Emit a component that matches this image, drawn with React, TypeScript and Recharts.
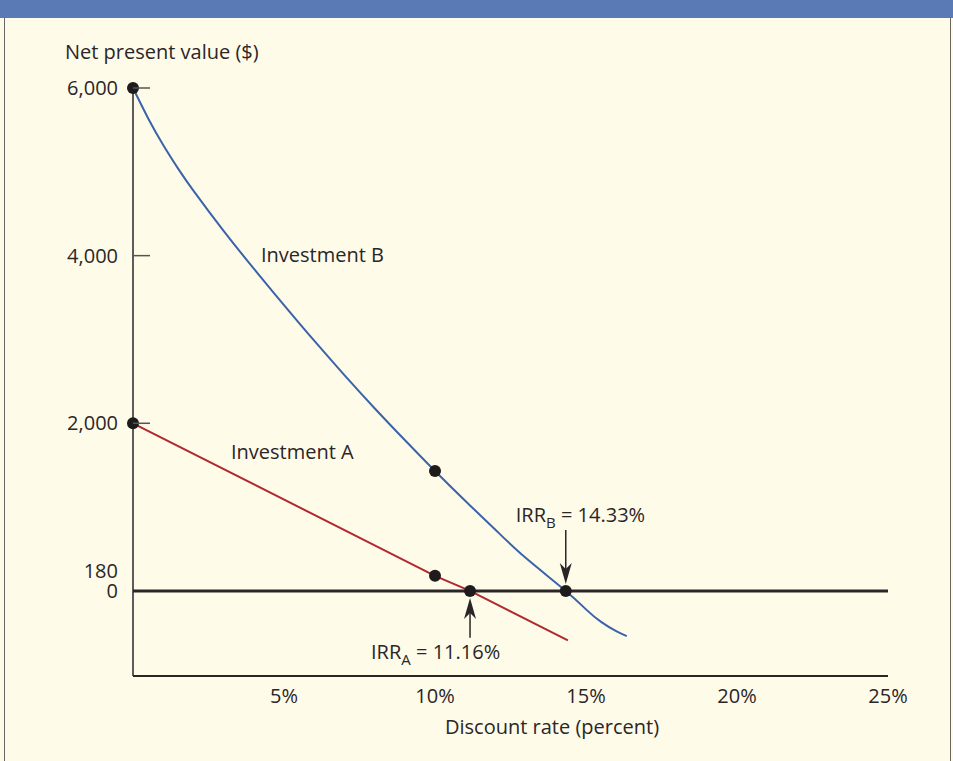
import React from 'react';
import { LineChart, Line, XAxis, YAxis, ReferenceLine, ReferenceDot } from 'recharts';

// discount rate (%) vs NPV ($)
const investmentA = [
  { rate: 0, npv: 2000 },
  { rate: 10, npv: 180 },
  { rate: 11.16, npv: 0 },
  { rate: 14.4, npv: -590 },
];

const investmentB = [
  { rate: 0, npv: 6000 },
  { rate: 0.5, npv: 5640 },
  { rate: 1, npv: 5320 },
  { rate: 1.5, npv: 5035 },
  { rate: 2, npv: 4775 },
  { rate: 3, npv: 4295 },
  { rate: 4, npv: 3845 },
  { rate: 5, npv: 3410 },
  { rate: 6, npv: 2985 },
  { rate: 7, npv: 2575 },
  { rate: 8, npv: 2180 },
  { rate: 9, npv: 1800 },
  { rate: 10, npv: 1430 },
  { rate: 11, npv: 1075 },
  { rate: 12, npv: 730 },
  { rate: 13, npv: 395 },
  { rate: 14.33, npv: 0 },
  { rate: 15, npv: -220 },
  { rate: 15.5, npv: -370 },
  { rate: 16, npv: -480 },
  { rate: 16.35, npv: -540 },
];

const markedPoints = [
  { rate: 0, npv: 6000 },
  { rate: 0, npv: 2000 },
  { rate: 10, npv: 1430 },
  { rate: 10, npv: 180 },
  { rate: 11.16, npv: 0 },
  { rate: 14.33, npv: 0 },
];

const yTicks = [0, 180, 2000, 4000, 6000];
const xTicks = [5, 10, 15, 20, 25];

const irrA = { rate: 11.16, label: 'A', value: '11.16%' };
const irrB = { rate: 14.33, label: 'B', value: '14.33%' };

const INK = '#2a2627';
const FONT = '"Open Sans", sans-serif';
const FS = 20;

const YTick = (props: any) => {
  const { x, y, payload } = props;
  // 180 sits just above 0 in the original, nudged up so the two labels don't collide
  const nudge = payload.value === 180 ? -5 : 0;
  return (
    <g>
      <text x={x} y={y + nudge} dy="0.36em" textAnchor="end" fontSize={FS} fill={INK} fontFamily={FONT}>
        {payload.value.toLocaleString('en-US')}
      </text>
      {payload.value >= 2000 && (
        <line x1={x + 15} y1={y} x2={x + 32} y2={y} stroke="#555" strokeWidth={1.5} />
      )}
    </g>
  );
};

const XTick = (props: any) => {
  const { x, y, payload } = props;
  return (
    <text x={x} y={y} dy="0.71em" textAnchor="middle" fontSize={FS} fill={INK} fontFamily={FONT}>
      {payload.value}%
    </text>
  );
};

// arrow from tail (x1,y1) to tip (x2,y2), IRR label placed at the tail
const makeArrow = (name: string, value: string, below: boolean) => (props: any) => {
  const { x1, y1, x2, y2 } = props;
  const dir = y2 > y1 ? 1 : -1;
  const head = 19;
  const baseY = y2 - dir * head;
  const tx = below ? x1 - 99 : x1 - 50;
  const ty = below ? y1 + 21 : y1 - 8;
  return (
    <g>
      <line x1={x1} y1={y1} x2={x2} y2={baseY + dir * 4} stroke={INK} strokeWidth={1.5} />
      <path
        d={`M${x2},${y2} L${x2 - 6},${baseY - dir * 2} L${x2},${baseY + dir * 4} L${x2 + 6},${baseY - dir * 2} Z`}
        fill={INK}
      />
      <text x={tx} y={ty} fontSize={FS} fill={INK} fontFamily={FONT}>
        IRR
        <tspan fontSize={15} dy={6}>{name}</tspan>
        <tspan dy={-6}> = {value}</tspan>
      </text>
    </g>
  );
};

const App: React.FC = () => {
  const label = { position: 'absolute' as const, fontSize: FS, color: INK, whiteSpace: 'nowrap' as const, lineHeight: '26px' };
  return (
    <div style={{ position: 'absolute', left: 0, top: 0, width: 953, height: 761, background: '#fffbe9', fontFamily: FONT }}>
      <div style={{ position: 'absolute', left: 0, top: 0, width: 953, height: 18, background: '#5a7ab5' }} />
      <div style={{ position: 'absolute', left: 4, top: 18, width: 1, height: 743, background: '#666' }} />
      <div style={{ position: 'absolute', left: 950, top: 18, width: 1, height: 743, background: '#666' }} />
      <div style={{ ...label, left: 65, top: 39 }}>Net present value ($)</div>
      <div style={{ ...label, left: 261, top: 242 }}>Investment B</div>
      <div style={{ ...label, left: 231, top: 439 }}>Investment A</div>
      <div style={{ ...label, left: 445, top: 714 }}>Discount rate (percent)</div>
      <div style={{ position: 'absolute', left: 0, top: 0 }}>
        <LineChart width={953} height={761} margin={{ top: 88, right: 65, left: 0, bottom: 25 }}>
          <XAxis
            type="number"
            dataKey="rate"
            domain={[0, 25]}
            ticks={xTicks}
            tick={<XTick />}
            tickLine={false}
            tickSize={0}
            tickMargin={13}
            axisLine={{ stroke: INK, strokeWidth: 2 }}
            height={60}
            allowDuplicatedCategory={false}
          />
          <YAxis
            type="number"
            dataKey="npv"
            domain={[-1015, 6000]}
            ticks={yTicks}
            tick={<YTick />}
            tickLine={false}
            tickSize={0}
            tickMargin={15}
            axisLine={{ stroke: INK, strokeWidth: 1.5 }}
            width={133}
            interval={0}
          />
          <ReferenceLine y={0} stroke={INK} strokeWidth={3} />
          <Line
            data={investmentA}
            dataKey="npv"
            type="linear"
            stroke="#b1282e"
            strokeWidth={2}
            dot={false}
            activeDot={false}
            isAnimationActive={false}
          />
          <Line
            data={investmentB}
            dataKey="npv"
            type="natural"
            stroke="#3b63a9"
            strokeWidth={2}
            dot={false}
            activeDot={false}
            isAnimationActive={false}
          />
          <ReferenceLine
            segment={[{ x: irrB.rate, y: 728 }, { x: irrB.rate, y: 84 }]}
            shape={makeArrow(irrB.label, irrB.value, false)}
          />
          <ReferenceLine
            segment={[{ x: irrA.rate, y: -560 }, { x: irrA.rate, y: -84 }]}
            shape={makeArrow(irrA.label, irrA.value, true)}
          />
          {markedPoints.map((p, i) => (
            <ReferenceDot key={i} x={p.rate} y={p.npv} r={6} fill="#1e1b1c" stroke="none" ifOverflow="visible" />
          ))}
        </LineChart>
      </div>
    </div>
  );
};

export default App;
